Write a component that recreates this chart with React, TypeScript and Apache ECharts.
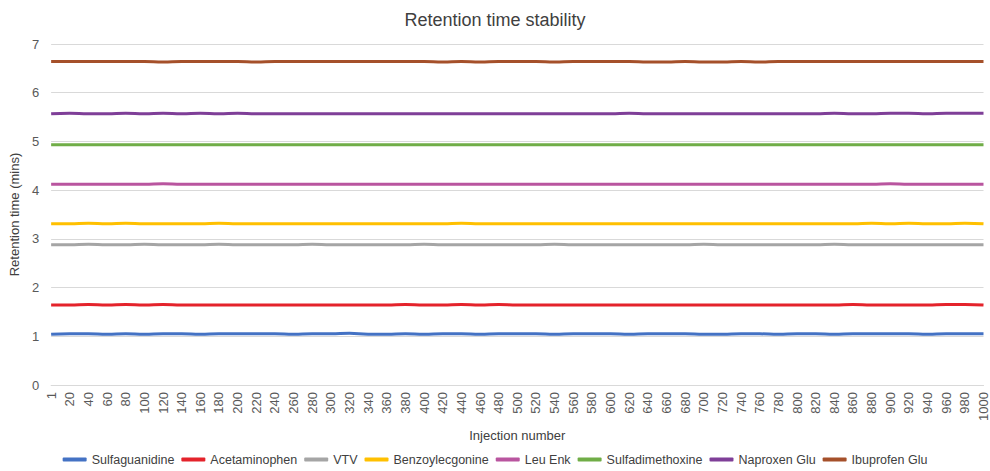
import React, { useEffect, useRef } from "react";
import * as echarts from "echarts";

const injections: string[] = [
  "1", "20", "40", "60", "80", "100", "120", "140", "160", "180",
  "200", "220", "240", "260", "280", "300", "320", "340", "360", "380",
  "400", "420", "440", "460", "480", "500", "520", "540", "560", "580",
  "600", "620", "640", "660", "680", "700", "720", "740", "760", "780",
  "800", "820", "840", "860", "880", "900", "920", "940", "960", "980",
  "1000",
];

const sulfaguanidine = [
  1.04, 1.05, 1.05, 1.04, 1.05, 1.04, 1.05, 1.05, 1.04, 1.05,
  1.05, 1.05, 1.05, 1.04, 1.05, 1.05, 1.06, 1.04, 1.04, 1.05,
  1.04, 1.05, 1.05, 1.04, 1.05, 1.05, 1.05, 1.04, 1.05, 1.05,
  1.05, 1.04, 1.05, 1.05, 1.05, 1.04, 1.04, 1.05, 1.05, 1.04,
  1.05, 1.05, 1.04, 1.05, 1.05, 1.05, 1.05, 1.04, 1.05, 1.05,
  1.05,
];
const acetaminophen = [
  1.64, 1.64, 1.65, 1.64, 1.65, 1.64, 1.65, 1.64, 1.64, 1.64,
  1.64, 1.64, 1.64, 1.64, 1.64, 1.64, 1.64, 1.64, 1.64, 1.65,
  1.64, 1.64, 1.65, 1.64, 1.65, 1.64, 1.64, 1.64, 1.64, 1.64,
  1.64, 1.64, 1.64, 1.64, 1.64, 1.64, 1.64, 1.64, 1.64, 1.64,
  1.64, 1.64, 1.64, 1.65, 1.64, 1.64, 1.64, 1.64, 1.65, 1.65,
  1.64,
];
const vtv = [
  2.88, 2.88, 2.89, 2.88, 2.88, 2.89, 2.88, 2.88, 2.88, 2.89,
  2.88, 2.88, 2.88, 2.88, 2.89, 2.88, 2.88, 2.88, 2.88, 2.88,
  2.89, 2.88, 2.88, 2.88, 2.88, 2.88, 2.88, 2.89, 2.88, 2.88,
  2.88, 2.88, 2.88, 2.88, 2.88, 2.89, 2.88, 2.88, 2.88, 2.88,
  2.88, 2.88, 2.89, 2.88, 2.88, 2.88, 2.88, 2.88, 2.88, 2.88,
  2.88,
];
const benzoylecgonine = [
  3.31, 3.31, 3.32, 3.31, 3.32, 3.31, 3.31, 3.31, 3.31, 3.32,
  3.31, 3.31, 3.31, 3.31, 3.31, 3.31, 3.31, 3.31, 3.31, 3.31,
  3.31, 3.31, 3.32, 3.31, 3.31, 3.31, 3.31, 3.31, 3.31, 3.31,
  3.31, 3.31, 3.31, 3.31, 3.31, 3.31, 3.31, 3.31, 3.31, 3.31,
  3.31, 3.31, 3.31, 3.31, 3.32, 3.31, 3.32, 3.31, 3.31, 3.32,
  3.31,
];
const leuEnk = [
  4.12, 4.12, 4.12, 4.12, 4.12, 4.12, 4.13, 4.12, 4.12, 4.12,
  4.12, 4.12, 4.12, 4.12, 4.12, 4.12, 4.12, 4.12, 4.12, 4.12,
  4.12, 4.12, 4.12, 4.12, 4.12, 4.12, 4.12, 4.12, 4.12, 4.12,
  4.12, 4.12, 4.12, 4.12, 4.12, 4.12, 4.12, 4.12, 4.12, 4.12,
  4.12, 4.12, 4.12, 4.12, 4.12, 4.13, 4.12, 4.12, 4.12, 4.12,
  4.12,
];
const sulfadimethoxine = [
  4.93, 4.93, 4.93, 4.93, 4.93, 4.93, 4.93, 4.93, 4.93, 4.93,
  4.93, 4.93, 4.93, 4.93, 4.93, 4.93, 4.93, 4.93, 4.93, 4.93,
  4.93, 4.93, 4.93, 4.93, 4.93, 4.93, 4.93, 4.93, 4.93, 4.93,
  4.93, 4.93, 4.93, 4.93, 4.93, 4.93, 4.93, 4.93, 4.93, 4.93,
  4.93, 4.93, 4.93, 4.93, 4.93, 4.93, 4.93, 4.93, 4.93, 4.93,
  4.93,
];
const naproxenGlu = [
  5.57, 5.58, 5.57, 5.57, 5.58, 5.57, 5.58, 5.57, 5.58, 5.57,
  5.58, 5.57, 5.57, 5.57, 5.57, 5.57, 5.57, 5.57, 5.57, 5.57,
  5.57, 5.57, 5.57, 5.57, 5.57, 5.57, 5.57, 5.57, 5.57, 5.57,
  5.57, 5.58, 5.57, 5.57, 5.57, 5.57, 5.57, 5.57, 5.57, 5.57,
  5.57, 5.57, 5.58, 5.57, 5.57, 5.58, 5.58, 5.57, 5.58, 5.58,
  5.58,
];
const ibuprofenGlu = [
  6.64, 6.64, 6.64, 6.64, 6.64, 6.64, 6.63, 6.64, 6.64, 6.64,
  6.64, 6.63, 6.64, 6.64, 6.64, 6.64, 6.64, 6.64, 6.64, 6.64,
  6.64, 6.63, 6.64, 6.63, 6.64, 6.64, 6.64, 6.63, 6.64, 6.64,
  6.64, 6.64, 6.63, 6.63, 6.64, 6.63, 6.63, 6.64, 6.63, 6.64,
  6.64, 6.64, 6.64, 6.64, 6.64, 6.64, 6.64, 6.64, 6.64, 6.64,
  6.64,
];

const seriesNames = [
  "Sulfaguanidine", "Acetaminophen", "VTV", "Benzoylecgonine",
  "Leu Enk", "Sulfadimethoxine", "Naproxen Glu", "Ibuprofen Glu",
];
const seriesData = [
  sulfaguanidine, acetaminophen, vtv, benzoylecgonine,
  leuEnk, sulfadimethoxine, naproxenGlu, ibuprofenGlu,
];
const colors = [
  "#4472C4", "#E4232B", "#A5A5A5", "#FFC000",
  "#B9559F", "#70AD47", "#7F3F98", "#A5502A",
];

export default function App() {
  const ref = useRef<HTMLDivElement>(null);
  useEffect(() => {
    if (!ref.current) return;
    const chart = echarts.init(ref.current, undefined, { renderer: "svg" });
    const font = "Liberation Sans, Arial, sans-serif";
    chart.setOption({
      animation: false,
      color: colors,
      textStyle: { fontFamily: font },
      title: {
        text: "Retention time stability",
        left: "center",
        top: 6,
        textStyle: { fontSize: 18, fontWeight: "normal", color: "#404040", fontFamily: font },
      },
      legend: {
        bottom: 0,
        left: "center",
        icon: "roundRect",
        itemWidth: 24,
        itemHeight: 4,
        itemGap: 7,
        textStyle: { fontSize: 12.5, color: "#404040", fontFamily: font },
        data: seriesNames,
      },
      grid: { left: 49, right: 5, top: 44, bottom: 86, containLabel: false },
      xAxis: {
        type: "category",
        data: injections,
        boundaryGap: false,
        name: "Injection number",
        nameLocation: "middle",
        nameGap: 41,
        nameTextStyle: { fontSize: 13, color: "#404040", fontFamily: font },
        axisLine: { lineStyle: { color: "#D9D9D9" } },
        axisTick: { show: false },
        axisLabel: {
          interval: 0,
          rotate: 90,
          fontSize: 13,
          color: "#595959",
          margin: 7,
          fontFamily: font,
        },
      },
      yAxis: {
        type: "value",
        min: 0,
        max: 7,
        interval: 1,
        name: "Retention time (mins)",
        nameLocation: "middle",
        nameGap: 28,
        nameTextStyle: { fontSize: 13, color: "#404040", fontFamily: font },
        axisLine: { show: false },
        axisTick: { show: false },
        axisLabel: { fontSize: 13, color: "#595959", margin: 12, fontFamily: font },
        splitLine: { lineStyle: { color: "#D9D9D9", width: 1 } },
      },
      series: seriesNames.map((name, i) => ({
        name,
        type: "line",
        data: seriesData[i],
        showSymbol: false,
        symbol: "none",
        smooth: true,
        lineStyle: { width: 3, color: colors[i] },
        itemStyle: { color: colors[i] },
      })),
    });
    return () => chart.dispose();
  }, []);
  return (
    <div
      ref={ref}
      style={{ position: "fixed", left: 0, top: 0, width: 990, height: 471, background: "#fff" }}
    />
  );
}
